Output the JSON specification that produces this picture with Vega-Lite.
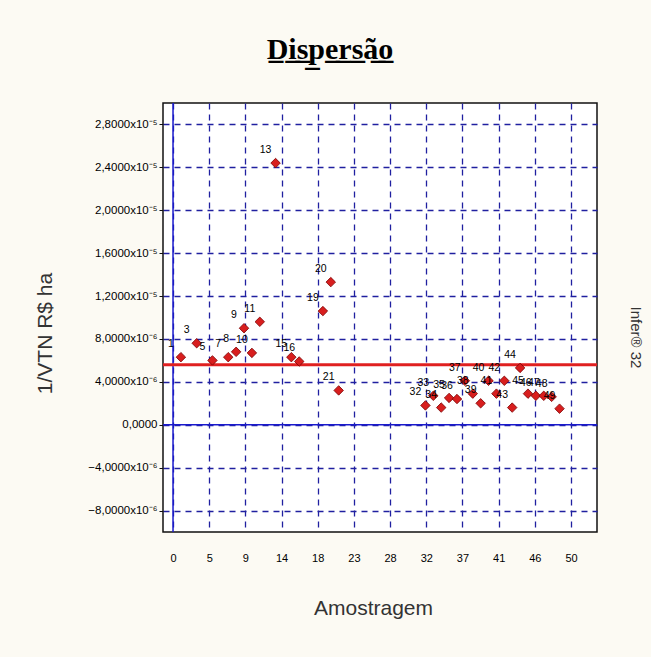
{
  "$schema": "https://vega.github.io/schema/vega-lite/v6.json",
  "autosize": "none",
  "width": 434,
  "height": 429,
  "padding": {"left": 163, "top": 103, "right": 54, "bottom": 125},
  "background": "#fcfaf3",
  "config": {
    "view": {"fill": "#ffffff", "stroke": "#111111", "strokeWidth": 1.5},
    "font": "Liberation Sans"
  },
  "title": {
    "text": "D̲i̲s̲p̲e̲r̲s̲ã̲o̲",
    "font": "Liberation Serif",
    "fontSize": 30,
    "fontWeight": "bold",
    "color": "#000000",
    "anchor": "middle",
    "frame": "group",
    "dx": -50,
    "baseline": "alphabetic",
    "offset": 13
  },
  "datasets": {
    "pts": [
      {"n": 1, "v": 6.3e-6},
      {"n": 3, "v": 7.6e-6},
      {"n": 5, "v": 6.0e-6},
      {"n": 7, "v": 6.3e-6},
      {"n": 8, "v": 6.8e-6},
      {"n": 9, "v": 9.0e-6},
      {"n": 10, "v": 6.7e-6},
      {"n": 11, "v": 9.6e-6},
      {"n": 13, "v": 2.44e-5},
      {"n": 15, "v": 6.3e-6},
      {"n": 16, "v": 5.9e-6},
      {"n": 19, "v": 1.06e-5},
      {"n": 20, "v": 1.33e-5},
      {"n": 21, "v": 3.2e-6},
      {"n": 32, "v": 1.8e-6},
      {"n": 33, "v": 2.7e-6},
      {"n": 34, "v": 1.6e-6},
      {"n": 35, "v": 2.5e-6},
      {"n": 36, "v": 2.4e-6},
      {"n": 37, "v": 4.1e-6},
      {"n": 38, "v": 2.9e-6},
      {"n": 39, "v": 2.0e-6},
      {"n": 40, "v": 4.1e-6},
      {"n": 41, "v": 2.9e-6},
      {"n": 42, "v": 4.1e-6},
      {"n": 43, "v": 1.6e-6},
      {"n": 44, "v": 5.3e-6},
      {"n": 45, "v": 2.9e-6},
      {"n": 46, "v": 2.7e-6},
      {"n": 47, "v": 2.7e-6},
      {"n": 48, "v": 2.6e-6},
      {"n": 49, "v": 1.5e-6}
    ],
    "zero": [{"z": 0}],
    "mean": [{"m": 5.6e-6}]
  },
  "resolve": {"axis": {"y": "independent"}},
  "layer": [
    {
      "data": {"name": "pts"},
      "mark": {"type": "point", "opacity": 0},
      "encoding": {
        "x": {
          "field": "n", "type": "quantitative",
          "scale": {"domain": [-1.27, 53.75], "nice": false, "zero": false},
          "axis": {
            "values": [0, 4.587, 9.174, 13.761, 18.348, 22.935, 27.522, 32.109, 36.696, 41.283, 45.87, 50.457],
            "tickCount": 20,
            "labelExpr": "format(datum.value, '.0f')",
            "labelOverlap": false,
            "title": "Amostragem",
            "titleFont": "Liberation Sans",
            "titleFontSize": 21,
            "titleFontWeight": "normal",
            "titleColor": "#333333",
            "titleX": 210,
            "titleY": 76,
            "titleBaseline": "middle",
            "labelFontSize": 11,
            "labelColor": "#000000",
            "labelPadding": 20,
            "ticks": false,
            "domain": false,
            "grid": true,
            "gridColor": "#2020a0",
            "gridDash": [6, 5],
            "gridWidth": 1.3
          }
        },
        "y": {
          "field": "v", "type": "quantitative",
          "scale": {"domain": [-1.0e-5, 3.0e-5], "nice": false, "zero": false},
          "axis": {
            "orient": "left",
            "values": [-8e-6, -4e-6, 0, 4e-6, 8e-6, 1.2e-5, 1.6e-5, 2.0e-5, 2.4e-5, 2.8e-5],
            "tickCount": 20,
            "labelExpr": "datum.value == 0 ? '0,0000' : (abs(datum.value) < 1e-5 ? replace(format(datum.value*1e6, '.4f'), '.', ',') + 'x10⁻⁶' : replace(format(datum.value*1e5, '.4f'), '.', ',') + 'x10⁻⁵')",
            "labelOverlap": false,
            "title": "1/VTN R$ ha",
            "titleFont": "Liberation Sans",
            "titleFontSize": 21,
            "titleFontWeight": "normal",
            "titleColor": "#333333",
            "titleX": -118,
            "titleY": 230,
            "titleBaseline": "middle",
            "labelFontSize": 11.5,
            "labelColor": "#000000",
            "labelPadding": 2,
            "tickSize": 4,
            "tickColor": "#111111",
            "domain": false,
            "grid": true,
            "gridColor": "#2020a0",
            "gridDash": [6, 5],
            "gridWidth": 1.3
          }
        }
      }
    },
    {
      "data": {"name": "zero"},
      "mark": {"type": "rule", "color": "#1a1acc", "strokeWidth": 1.5},
      "encoding": {"y": {"field": "z", "type": "quantitative", "axis": null}}
    },
    {
      "data": {"name": "zero"},
      "mark": {"type": "rule", "color": "#1a1acc", "strokeWidth": 1.5},
      "encoding": {"x": {"field": "z", "type": "quantitative"}}
    },
    {
      "data": {"name": "mean"},
      "mark": {"type": "rule", "color": "#e02020", "strokeWidth": 3},
      "encoding": {
        "y": {
          "field": "m", "type": "quantitative",
          "axis": {
            "orient": "right",
            "labels": false,
            "ticks": false,
            "domain": false,
            "grid": false,
            "title": "Infer® 32",
            "titleFont": "Liberation Sans",
            "titleFontSize": 15,
            "titleFontWeight": "normal",
            "titleColor": "#333333",
            "titleX": 38,
            "titleY": 234,
            "titleBaseline": "middle"
          }
        }
      }
    },
    {
      "data": {"name": "pts"},
      "mark": {"type": "point", "shape": "diamond", "size": 90, "filled": true, "fill": "#d81e1e", "stroke": "#7a0000", "strokeWidth": 0.8, "opacity": 1},
      "encoding": {
        "x": {"field": "n", "type": "quantitative"},
        "y": {"field": "v", "type": "quantitative", "axis": null}
      }
    },
    {
      "data": {"name": "pts"},
      "mark": {"type": "text", "dx": -10, "dy": -13, "fontSize": 10.5, "color": "#000000", "align": "center", "baseline": "middle"},
      "encoding": {
        "x": {"field": "n", "type": "quantitative"},
        "y": {"field": "v", "type": "quantitative", "axis": null},
        "text": {"field": "n", "type": "nominal"}
      }
    }
  ]
}
